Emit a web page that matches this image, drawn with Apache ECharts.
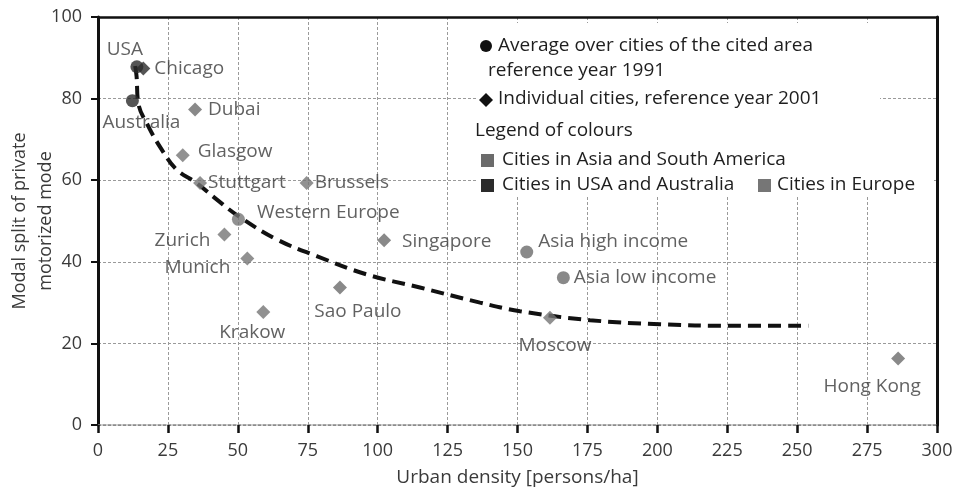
<!DOCTYPE html>
<html>
<head>
<meta charset="utf-8">
<script src="https://cdn.jsdelivr.net/npm/echarts@6/dist/echarts.min.js"></script>
<style>
  html, body { margin: 0; padding: 0; background: #fff; }
  #chart { width: 955px; height: 497px; }
</style>
</head>
<body>
<div id="chart"></div>
<script>
// averages over cities of an area (1991)
var avgNames = ['USA', 'Australia', 'Western Europe', 'Asia high income', 'Asia low income'];
var avgDensity = [13.9, 12.3, 50.2, 153.3, 166.4];
var avgShare = [87.8, 79.5, 50.4, 42.4, 36.1];
var avgRegion = ['usa', 'usa', 'europe', 'asia', 'asia'];

// individual cities (2001)
var cityNames = ['Chicago', 'Dubai', 'Glasgow', 'Stuttgart', 'Brussels', 'Zurich', 'Munich', 'Krakow', 'Sao Paulo', 'Singapore', 'Moscow', 'Hong Kong'];
var cityDensity = [16.2, 34.7, 30.3, 36.5, 74.6, 45.2, 53.4, 59.1, 86.5, 102.3, 161.6, 286.1];
var cityShare = [87.4, 77.3, 66.1, 59.3, 59.3, 46.7, 40.8, 27.7, 33.7, 45.3, 26.3, 16.3];
var cityRegion = ['usa', 'asia', 'europe', 'europe', 'europe', 'europe', 'europe', 'europe', 'asia', 'asia', 'europe', 'asia'];

// dashed trend curve
var fitDensity = [13.3, 13.8, 14.4, 18, 22.8, 28.1, 35.3, 42.4, 50.2, 63.9, 78.2, 96.1, 115.1, 136.6, 150.9, 175.9, 200.9, 226, 254];
var fitShare = [88, 85.4, 78.9, 73.2, 67.5, 62.6, 59.3, 55.3, 51.2, 45.5, 41.4, 36.9, 33.7, 30, 27.9, 25.7, 24.7, 24.3, 24.3];

var legendLines = [
  'Average over cities of the cited area',
  'reference year 1991',
  'Individual cities, reference year 2001',
  'Legend of colours',
  'Cities in Asia and South America',
  'Cities in USA and Australia',
  'Cities in Europe'
];

var regionColor = { asia: '#6b6b6b', usa: '#2b2b2b', europe: '#767676' };
var FONT = '"Open Sans"';
var TXT = '#3a3a3a';
var LEG = '#1e1e1e';

// where each label sits around its marker
var labelPlace = {
  'USA': ['top', [-12, 4]],
  'Chicago': ['right', [-1, 0]],
  'Australia': ['bottom', [9, 1]],
  'Dubai': ['right', [1, 0]],
  'Glasgow': ['right', [3, -4]],
  'Stuttgart': ['right', [-4, 0]],
  'Brussels': ['right', [-4, 0]],
  'Western Europe': ['right', [7, -7]],
  'Zurich': ['left', [-2, 6]],
  'Munich': ['left', [-5, 9]],
  'Krakow': ['bottom', [-11, -1]],
  'Sao Paulo': ['bottom', [18, 3]],
  'Singapore': ['right', [6, 1]],
  'Asia high income': ['right', [0, -10]],
  'Asia low income': ['right', [-1, 0]],
  'Moscow': ['bottom', [5, 6]],
  'Hong Kong': ['bottom', [-26, 7]]
};

function points(names, xs, ys, regions) {
  return names.map(function (n, i) {
    var p = labelPlace[n];
    return {
      name: n,
      value: [xs[i], ys[i]],
      itemStyle: { color: regionColor[regions[i]] },
      label: { position: p[0], offset: p[1] }
    };
  });
}

var fitData = fitDensity.map(function (d, i) { return [d, fitShare[i]]; });

var pointLabel = {
  show: true,
  formatter: '{b}',
  fontFamily: FONT,
  fontSize: 19,
  color: TXT,
  distance: 5
};

function legendText(i, x, y) {
  return {
    type: 'text', z: 5,
    style: { text: legendLines[i], x: x, y: y, verticalAlign: 'middle', font: '19px ' + FONT, fill: LEG }
  };
}

var gridDash = { color: '#9a9a9a', type: [3, 2], width: 1 };

var option = {
  animation: false,
  backgroundColor: '#fff',
  grid: {
    left: 98, right: 18, top: 17, bottom: 72,
    containLabel: false,
    outerBoundsMode: 'none'
  },
  xAxis: [{
    type: 'value',
    min: 0, max: 300, interval: 25,
    name: 'Urban density [persons/ha]',
    nameLocation: 'middle',
    nameGap: 43,
    nameMoveOverlap: false,
    nameTextStyle: { fontFamily: FONT, fontSize: 19, color: TXT },
    axisLine: { show: true, onZero: false, lineStyle: { color: '#888', type: [3, 2], width: 1.5 } },
    axisTick: { show: true, length: 8, lineStyle: { color: '#111', width: 2.5 } },
    axisLabel: { fontFamily: FONT, fontSize: 18, color: TXT, margin: 17 },
    splitLine: { show: true, lineStyle: gridDash }
  }, {
    // top frame line
    type: 'value', position: 'top',
    min: 0, max: 300,
    axisLine: { show: true, onZero: false, lineStyle: { color: '#111', width: 2.5 } },
    axisTick: { show: false }, axisLabel: { show: false }, splitLine: { show: false }
  }],
  yAxis: [{
    type: 'value',
    min: 0, max: 100, interval: 20,
    name: 'Modal split of private\nmotorized mode',
    nameLocation: 'middle',
    nameGap: 39,
    nameMoveOverlap: false,
    nameTextStyle: { fontFamily: FONT, fontSize: 18, color: TXT, lineHeight: 26 },
    axisLine: { show: true, onZero: false, lineStyle: { color: '#111', width: 3 } },
    axisTick: { show: true, length: 7, lineStyle: { color: '#111', width: 2 } },
    axisLabel: { fontFamily: FONT, fontSize: 18, color: TXT, margin: 16 },
    splitLine: { show: true, lineStyle: gridDash }
  }, {
    // right frame line
    type: 'value', position: 'right',
    min: 0, max: 100,
    axisLine: { show: true, onZero: false, lineStyle: { color: '#111', width: 3 } },
    axisTick: { show: false }, axisLabel: { show: false }, splitLine: { show: false }
  }],
  graphic: [
    { type: 'rect', z: 1, shape: { x: 476, y: 23, width: 404, height: 150 }, style: { fill: '#fff' } },
    { type: 'rect', z: 1, shape: { x: 476, y: 150, width: 458, height: 47 }, style: { fill: '#fff' } },
    { type: 'circle', z: 5, shape: { cx: 486, cy: 46, r: 6 }, style: { fill: '#111' } },
    legendText(0, 498, 46),
    legendText(1, 488, 71),
    { type: 'polygon', z: 5, shape: { points: [[486, 93], [493, 100], [486, 107], [479, 100]] }, style: { fill: '#111' } },
    legendText(2, 498, 99),
    legendText(3, 475, 131),
    { type: 'rect', z: 5, shape: { x: 481, y: 154, width: 13, height: 13 }, style: { fill: regionColor.asia } },
    legendText(4, 502, 160),
    { type: 'rect', z: 5, shape: { x: 481, y: 179, width: 13, height: 13 }, style: { fill: regionColor.usa } },
    legendText(5, 502, 185),
    { type: 'rect', z: 5, shape: { x: 758, y: 179, width: 13, height: 13 }, style: { fill: regionColor.europe } },
    legendText(6, 777, 185)
  ],
  series: [
    {
      name: 'trend',
      type: 'line',
      data: fitData,
      smooth: 0.4,
      symbol: 'none',
      z: 2,
      lineStyle: { color: '#111', width: 4, type: [13, 7] }
    },
    {
      name: 'Average over cities of the cited area',
      type: 'scatter',
      symbol: 'circle',
      symbolSize: 13,
      z: 3,
      label: pointLabel,
      data: points(avgNames, avgDensity, avgShare, avgRegion)
    },
    {
      name: 'Individual cities',
      type: 'scatter',
      symbol: 'diamond',
      symbolSize: 14,
      z: 3,
      label: pointLabel,
      data: points(cityNames, cityDensity, cityShare, cityRegion)
    }
  ]
};

var chart = echarts.init(document.getElementById('chart'));
chart.setOption(option);
</script>
</body>
</html>
